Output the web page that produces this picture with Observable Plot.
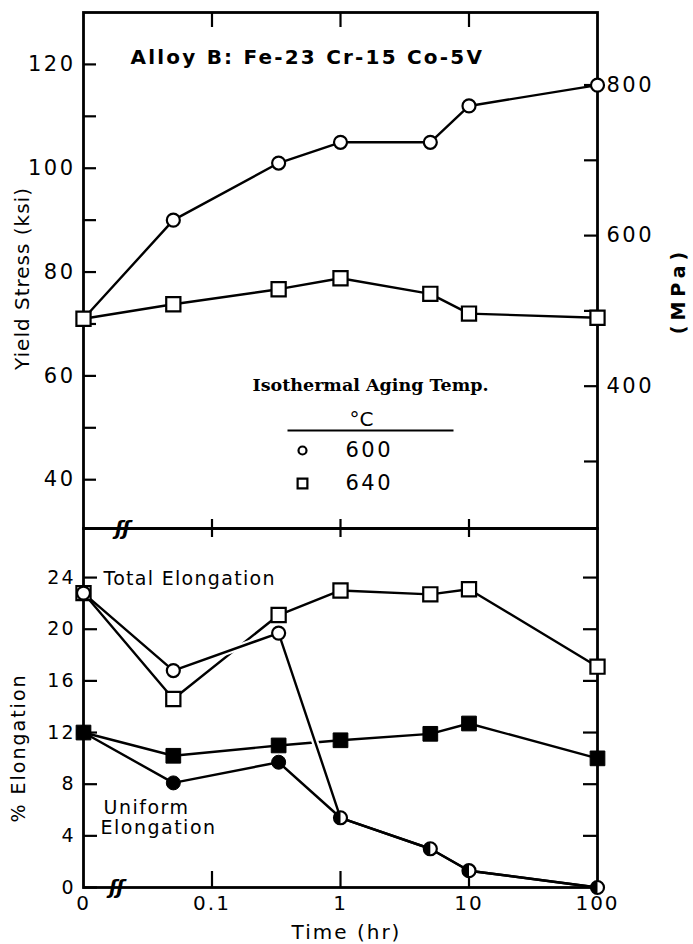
<!DOCTYPE html>
<html>
<head>
<meta charset="utf-8">
<script src="https://cdn.jsdelivr.net/npm/d3@7"></script>
<script src="https://cdn.jsdelivr.net/npm/@observablehq/plot@0.6"></script>
<style>
  body { margin: 0; background: #fff; }
  #figure { position: relative; width: 693px; height: 944px; }
  #figure svg { position: absolute; left: 0; }
</style>
</head>
<body>
<div id="figure"></div>
<script>
// Aging time of each specimen (hr)
const times = [0, 0.05, 0.33, 1, 5, 10, 100];

// Yield stress (ksi) after isothermal aging
const yield600 = [71, 90, 101, 105, 105, 112, 116];
const yield640 = [71, 73.8, 76.7, 78.8, 75.8, 72, 71.2];

// Total and uniform elongation (%)
const total600 = [22.8, 16.8, 19.7, 5.4, 3.0, 1.3, 0];
const total640 = [22.8, 14.6, 21.1, 23.0, 22.7, 23.1, 17.1];
const uniform600 = [12, 8.1, 9.7, 5.4, 3.0, 1.3, 0];
const uniform640 = [12, 10.2, 11.0, 11.4, 11.9, 12.7, 10.0];

// Axis ticks
const xTicks = [0, 0.1, 1, 10, 100];
const xTickLabels = ["0", "0.1", "1", "10", "100"];
const ksiTicks = [40, 60, 80, 100, 120];
const ksiMinorTicks = [50, 70, 90, 110];
const mpaTicks = [400, 600, 800];
const mpaMinorTicks = [300, 500, 700];
const elongTicks = [0, 4, 8, 12, 16, 20, 24];

const MPA_PER_KSI = 6.894757;
// The time axis is broken: zero sits one decade below 0.1 hr
const ZERO_AT = 0.01;
const timePos = t => (t === 0 ? ZERO_AT : t);

const rowsOf = vals => vals.map((v, i) => ({t: timePos(times[i]), v}));

const W = 693, LEFT = 83, RIGHT = 96;
const PW = W - LEFT - RIGHT;
const FONT = "DejaVu Sans";
const INK = "black";

// half-filled circle: specimens whose uniform and total elongation coincide
const halfDisc = {
  draw(ctx, size) {
    const r = Math.sqrt(size / Math.PI);
    ctx.moveTo(0, -r);
    ctx.arc(0, 0, r, -Math.PI / 2, Math.PI / 2, true);
    ctx.closePath();
  }
};
// horizontal rule used under the legend heading
const hRule = {
  draw(ctx, size) {
    const r = Math.sqrt(size / Math.PI);
    ctx.moveTo(-r, 0);
    ctx.lineTo(r, 0);
  }
};

const common = {
  width: W,
  marginLeft: LEFT,
  marginRight: RIGHT,
  x: {type: "log", domain: [ZERO_AT, 100], axis: null},
  style: {fontFamily: FONT, fontSize: "19px", background: "transparent", overflow: "visible", color: INK}
};

const lineOpts = {x: "t", y: "v", stroke: INK, strokeWidth: 2.4};
const openCircle = {x: "t", y: "v", r: 6.5, fill: "white", stroke: INK, strokeWidth: 2.2};
const openSquare = {x: "t", y: "v", symbol: "square", r: 8, fill: "white", stroke: INK, strokeWidth: 2.2};
const note = {frameAnchor: "top-left", textAnchor: "start", lineAnchor: "middle"};
const breakMark = {frameAnchor: "bottom", text: () => "ʃʃ", fontSize: 20, fontStyle: "italic", fontWeight: "bold", lineAnchor: "middle"};

// ---------- Yield stress panel ----------
const topH = 540, topPH = 516;
const yieldPanel = Plot.plot({
  ...common,
  height: topH,
  marginTop: 12,
  marginBottom: 12,
  y: {domain: [30.6, 130], axis: null},
  marks: [
    Plot.frame({stroke: INK, strokeWidth: 2.8}),
    // inward ticks, left (ksi) and right (MPa)
    Plot.tickY(ksiTicks.concat(ksiMinorTicks), {y: d => d, insetRight: PW - 13, stroke: INK, strokeWidth: 2.2}),
    Plot.tickY(mpaTicks.concat(mpaMinorTicks), {y: d => d / MPA_PER_KSI, insetLeft: PW - 13, stroke: INK, strokeWidth: 2.2}),
    // time ticks on the top edge and across the lower edge
    Plot.tickX(xTicks.slice(1, 4), {x: d => d, insetBottom: topPH - 15, stroke: INK, strokeWidth: 2.2}),
    Plot.tickX(xTicks.slice(1, 4), {x: d => d, insetTop: topPH - 9, stroke: INK, strokeWidth: 2.2}),
    Plot.text([0.02], {x: d => d, ...breakMark}),
    Plot.axisY(ksiTicks, {anchor: "left", tickSize: 0, tickPadding: 8, fontSize: 21, label: null}),
    Plot.axisY(mpaTicks.map(m => m / MPA_PER_KSI), {anchor: "right", tickSize: 0, tickPadding: 9, fontSize: 21, label: null,
      tickFormat: d => String(Math.round(d * MPA_PER_KSI))}),
    Plot.text(["Yield Stress (ksi)"], {frameAnchor: "left", textAnchor: "middle", dx: -61, dy: 8, rotate: -90, fontSize: 20}),
    Plot.text(["(MPa)"], {frameAnchor: "right", textAnchor: "middle", dx: 81, dy: 20, rotate: -90, fontSize: 19, fontWeight: "bold"}),
    // data
    Plot.line(rowsOf(yield640), lineOpts),
    Plot.line(rowsOf(yield600), lineOpts),
    Plot.dot(rowsOf(yield600), openCircle),
    Plot.dot(rowsOf(yield640), openSquare),
    // heading
    Plot.text(["Alloy B: Fe-23 Cr-15 Co-5V"], {...note, dx: 47, dy: 45, fontSize: 20, fontWeight: "bold"}),
    // legend
    Plot.text(["Isothermal Aging Temp."], {...note, dx: 169, dy: 373, fontFamily: "DejaVu Serif", fontSize: 17.5, fontWeight: "bold"}),
    Plot.text(["°C"], {...note, textAnchor: "middle", dx: 278, dy: 407, fontSize: 20}),
    Plot.dot([0], {frameAnchor: "top-left", dx: 287, dy: 418, symbol: hRule, r: 83, stroke: INK, strokeWidth: 2}),
    Plot.dot([0], {frameAnchor: "top-left", dx: 219, dy: 438, r: 4, fill: "white", stroke: INK, strokeWidth: 2.2}),
    Plot.dot([0], {frameAnchor: "top-left", dx: 219, dy: 471, symbol: "square", r: 5.5, fill: "white", stroke: INK, strokeWidth: 2.2}),
    Plot.text(["600"], {...note, dx: 262, dy: 438, fontSize: 21}),
    Plot.text(["640"], {...note, dx: 262, dy: 471, fontSize: 21})
  ]
});

// ---------- Elongation panel ----------
const botTop = 516, botH = 428, botPH = 359;
const r600t = rowsOf(total600), r600u = rowsOf(uniform600);
const necked600 = r600u.filter((d, i) => uniform600[i] < total600[i]);
const merged600 = r600u.filter((d, i) => uniform600[i] === total600[i]);

const elongPanel = Plot.plot({
  ...common,
  height: botH,
  marginTop: 12,
  marginBottom: botH - 12 - botPH,
  y: {domain: [0, 27.8], axis: null},
  marks: [
    Plot.frame({stroke: INK, strokeWidth: 2.8}),
    Plot.tickY(elongTicks, {y: d => d, insetRight: PW - 14, stroke: INK, strokeWidth: 2.2}),
    Plot.tickY(elongTicks.slice(1), {y: d => d, insetLeft: PW - 14, stroke: INK, strokeWidth: 2.2}),
    Plot.tickX(xTicks.slice(1, 4), {x: d => d, insetTop: botPH - 16, stroke: INK, strokeWidth: 2.2}),
    Plot.tickX(xTicks.slice(1, 4), {x: d => d, insetBottom: botPH - 9, stroke: INK, strokeWidth: 2.2}),
    Plot.text([0.018], {x: d => d, ...breakMark}),
    Plot.axisY(elongTicks, {anchor: "left", tickSize: 0, tickPadding: 8, fontSize: 19, label: null}),
    Plot.axisX(xTicks.map(timePos), {anchor: "bottom", tickSize: 0, tickPadding: 8, fontSize: 20, label: null,
      tickFormat: d => xTickLabels[xTicks.map(timePos).indexOf(d)]}),
    Plot.text(["Time (hr)"], {frameAnchor: "bottom", lineAnchor: "middle", dx: 6, dy: 45, fontSize: 20}),
    Plot.text(["% Elongation"], {frameAnchor: "left", textAnchor: "middle", dx: -65, dy: 40, rotate: -90, fontSize: 19}),
    Plot.text(["Total Elongation"], {...note, dx: 20, dy: 50, fontSize: 19}),
    Plot.text(["Uniform"], {...note, dx: 20, dy: 279, fontSize: 19}),
    Plot.text(["Elongation"], {...note, dx: 17, dy: 299, fontSize: 19}),
    // data: 640 °C first, then 600 °C drawn over it with a gap where lines cross
    Plot.line(rowsOf(total640), lineOpts),
    Plot.line(rowsOf(uniform640), lineOpts),
    Plot.line(r600t.slice(1, 4), {x: "t", y: "v", stroke: "white", strokeWidth: 7}),
    Plot.line(r600u, lineOpts),
    Plot.line(r600t, lineOpts),
    Plot.dot(rowsOf(total640), openSquare),
    Plot.dot(rowsOf(uniform640), {x: "t", y: "v", symbol: "square", r: 8.3, fill: INK, stroke: INK, strokeWidth: 1}),
    Plot.dot(r600t, openCircle),
    Plot.dot(necked600, {x: "t", y: "v", r: 7, fill: INK, stroke: INK, strokeWidth: 1}),
    Plot.dot(merged600, {x: "t", y: "v", r: 6.5, symbol: halfDisc, fill: INK, stroke: "none"})
  ]
});

// letter spacing of the lettering, by text
const tracking = new Map([
  ["Alloy B: Fe-23 Cr-15 Co-5V", "2.2px"],
  ["(MPa)", "5px"],
  ["Time (hr)", "2px"],
  ["Yield Stress (ksi)", "1px"],
  ["% Elongation", "2px"],
  ["Total Elongation", "1.3px"],
  ["Uniform", "1.5px"],
  ["Elongation", "1.5px"],
  ["Isothermal Aging Temp.", "0px"],
  ["ʃʃ", "-1px"]
]);
function track(svg, numeric) {
  svg.querySelectorAll("text").forEach(t => {
    const s = t.textContent;
    if (tracking.has(s)) t.style.letterSpacing = tracking.get(s);
    else if (/^[0-9.]+$/.test(s)) t.style.letterSpacing = numeric;
  });
}
track(yieldPanel, "2.5px");
track(elongPanel, "2px");

const fig = document.getElementById("figure");
yieldPanel.style.top = "0px";
elongPanel.style.top = botTop + "px";
fig.append(yieldPanel, elongPanel);
</script>
</body>
</html>
